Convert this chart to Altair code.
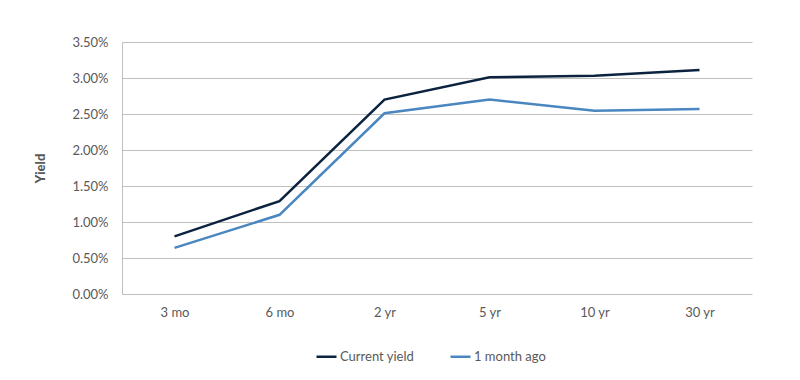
import altair as alt
import pandas as pd

maturities = ["3 mo", "6 mo", "2 yr", "5 yr", "10 yr", "30 yr"]
current_yield = [0.80, 1.29, 2.70, 3.01, 3.03, 3.11]
month_ago = [0.64, 1.10, 2.51, 2.70, 2.545, 2.57]
series_names = ["Current yield", "1 month ago"]
colors = ["#0c2340", "#4a86bf"]

rows = []
for m, c, p in zip(maturities, current_yield, month_ago):
    rows.append({"Maturity": m, "Series": series_names[0], "Yield": c / 100})
    rows.append({"Maturity": m, "Series": series_names[1], "Yield": p / 100})
df = pd.DataFrame(rows)

font = "Lato, sans-serif"
grey = "#595959"

chart = alt.Chart(df).mark_line(strokeWidth=2.5).encode(
    x=alt.X("Maturity:N", sort=maturities, title=None,
            scale=alt.Scale(type="point", padding=0.5),
            axis=alt.Axis(domain=False, ticks=False, grid=False, labelAngle=0,
                          labelPadding=12, labelFontSize=13, labelColor=grey, labelFont=font)),
    y=alt.Y("Yield:Q", title="Yield",
            scale=alt.Scale(domain=[0, 0.035], nice=False),
            axis=alt.Axis(format=".2%", values=[0, 0.005, 0.01, 0.015, 0.02, 0.025, 0.03, 0.035],
                          domain=True, domainColor="#bfbfbf", domainWidth=1,
                          ticks=False, grid=True, gridColor="#bfbfbf", gridWidth=1,
                          labelPadding=14, labelFontSize=13, labelColor=grey, labelFont=font,
                          titleFontSize=13, titleFontWeight=900, titleColor=grey, titleFont=font,
                          titlePadding=24)),
    color=alt.Color("Series:N", sort=series_names,
                    scale=alt.Scale(domain=series_names, range=colors),
                    legend=alt.Legend(title=None, orient="none", direction="horizontal",
                                      legendX=193, legendY=303,
                                      symbolType="stroke", symbolSize=400, symbolStrokeWidth=2.5,
                                      labelFontSize=13, labelColor=grey, labelFont=font,
                                      labelOffset=2, columnPadding=30)),
).properties(
    width=630, height=252,
    autosize=alt.AutoSizeParams(type="none"),
    padding={"left": 114, "top": 34, "right": 40, "bottom": 70},
).configure_view(stroke=None)

chart.save("out.html", embed_options={"renderer": "svg", "actions": False})
